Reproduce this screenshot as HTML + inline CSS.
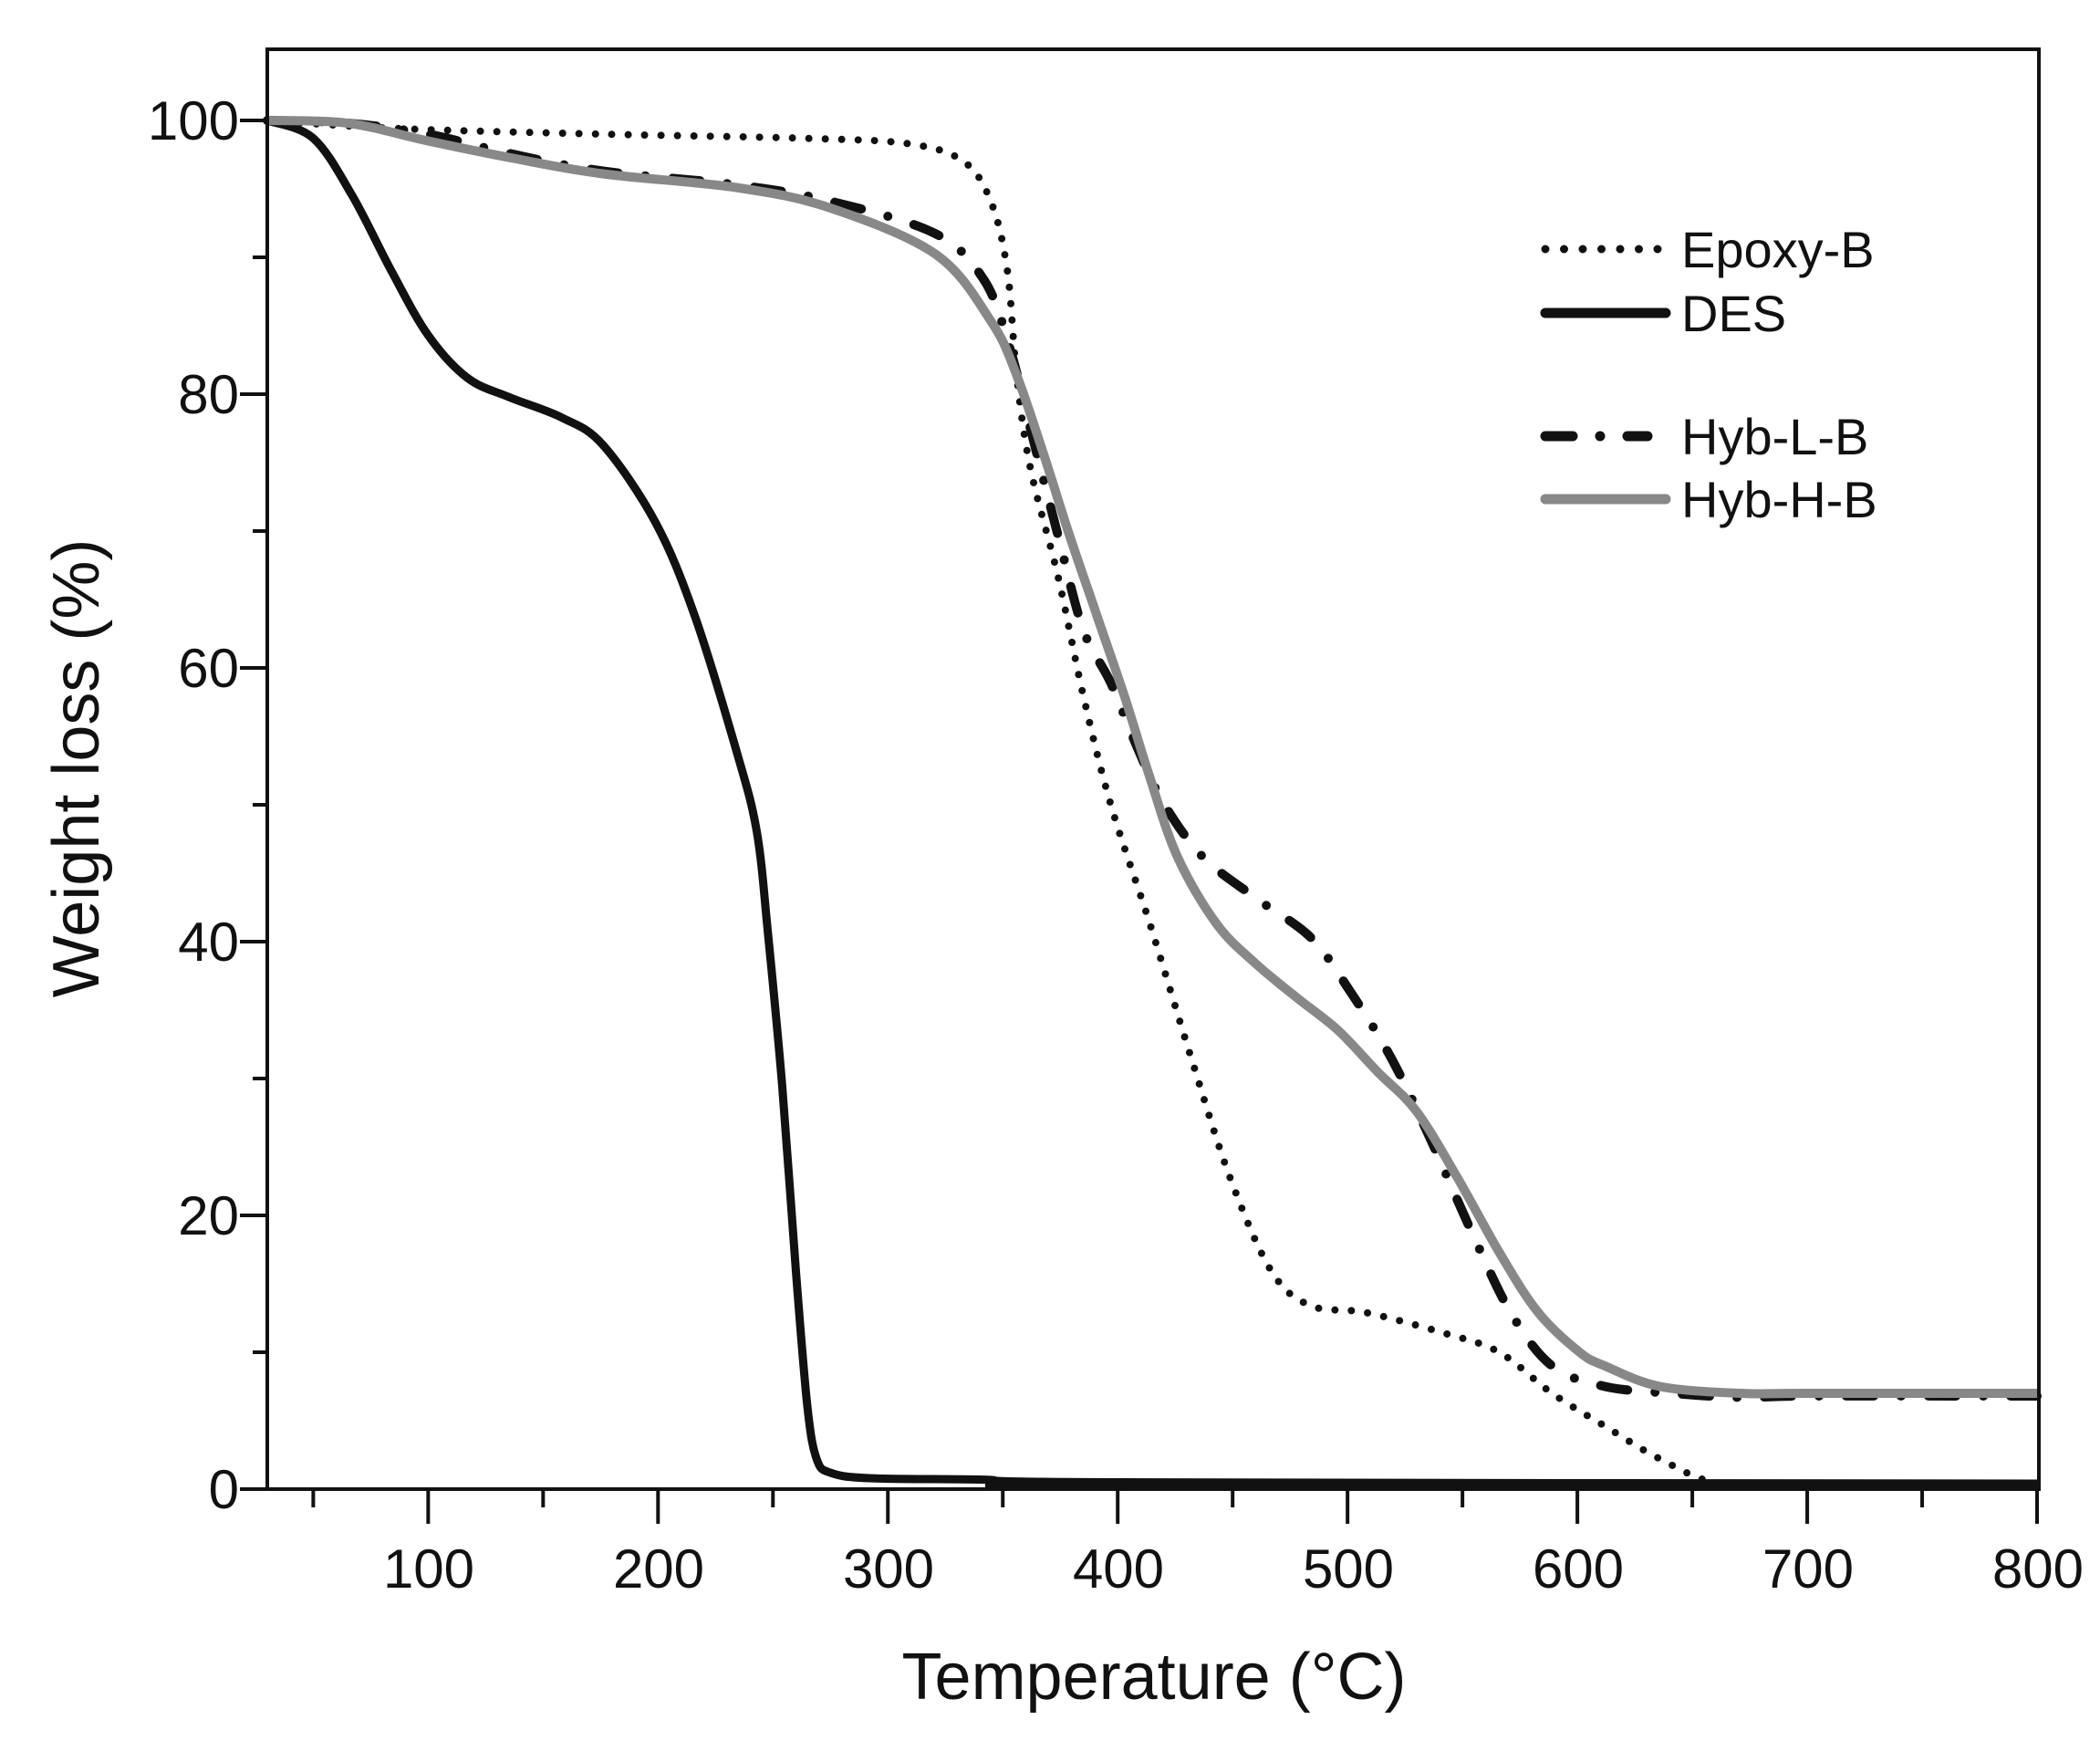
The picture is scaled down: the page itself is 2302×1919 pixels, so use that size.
<!DOCTYPE html>
<html><head><meta charset="utf-8"><style>html,body{margin:0;padding:0;background:#fff}svg{display:block}</style></head>
<body>
<svg id="s" width="2302" height="1919" viewBox="0 0 2302 1919" xmlns="http://www.w3.org/2000/svg" font-family="Liberation Sans, Arial, sans-serif">
<rect width="2302" height="1919" fill="#fff"/>
<g id="curves"></g>
<line x1="1080" y1="1627" x2="2233" y2="1627" stroke="#111" stroke-width="10"/>
<rect x="293" y="54" width="1942" height="1578" fill="none" stroke="#111" stroke-width="4"/>
<g id="ticks" stroke="#111" stroke-width="4"></g>
<g font-size="60" fill="#111" text-anchor="end">
<text x="262" y="153">100</text>
<text x="262" y="453">80</text>
<text x="262" y="753">60</text>
<text x="262" y="1053">40</text>
<text x="262" y="1353">20</text>
<text x="262" y="1653">0</text>
</g>
<g font-size="60" fill="#111" text-anchor="middle">
<text x="470" y="1740">100</text>
<text x="722" y="1740">200</text>
<text x="974" y="1740">300</text>
<text x="1226" y="1740">400</text>
<text x="1478" y="1740">500</text>
<text x="1730" y="1740">600</text>
<text x="1982" y="1740">700</text>
<text x="2234" y="1740">800</text>
</g>
<text x="1265" y="1862" font-size="72" text-anchor="middle" fill="#111">Temperature (°C)</text>
<text transform="translate(108,842) rotate(-90)" font-size="72" text-anchor="middle" fill="#111">Weight loss (%)</text>
<g>
<line x1="1694" y1="273" x2="1826" y2="273" stroke="#111" stroke-width="9" stroke-linecap="round" stroke-dasharray="0 20.5"/>
<line x1="1694" y1="343" x2="1826" y2="343" stroke="#111" stroke-width="11" stroke-linecap="round"/>
<line x1="1694" y1="478" x2="1806" y2="478" stroke="#111" stroke-width="11" stroke-linecap="round" stroke-dasharray="30 30 0 30"/>
<line x1="1694" y1="547" x2="1826" y2="547" stroke="#888" stroke-width="11" stroke-linecap="round"/>
<g font-size="56" fill="#111">
<text x="1843" y="293">Epoxy-B</text>
<text x="1843" y="363">DES</text>
<text x="1843" y="498">Hyb-L-B</text>
<text x="1843" y="567">Hyb-H-B</text>
</g>
</g>
</svg>
<script>
(function(){
var NS="http://www.w3.org/2000/svg";
function X(t){return 293+(t-30)*2.5195;}
function Y(w){return 1632-w*15.0;}
function path(pts){
 var p=pts.map(function(a){return [X(a[0]),Y(a[1])];});
 var d="M"+p[0][0].toFixed(1)+","+p[0][1].toFixed(1);
 for(var i=0;i<p.length-1;i++){
  var p0=p[i-1]||p[i],p1=p[i],p2=p[i+1],p3=p[i+2]||p2;
  var c1=[p1[0]+(p2[0]-p0[0])/6,p1[1]+(p2[1]-p0[1])/6];
  var c2=[p2[0]-(p3[0]-p1[0])/6,p2[1]-(p3[1]-p1[1])/6];
  d+="C"+c1[0].toFixed(1)+","+c1[1].toFixed(1)+" "+c2[0].toFixed(1)+","+c2[1].toFixed(1)+" "+p2[0].toFixed(1)+","+p2[1].toFixed(1);
 }
 return d;
}
var g=document.getElementById("curves");
function add(pts,attrs){var e=document.createElementNS(NS,"path");e.setAttribute("d",path(pts));e.setAttribute("fill","none");for(var k in attrs)e.setAttribute(k,attrs[k]);g.appendChild(e);}
var epoxy=[[30,100],[88,99.4],[176,99],[263,98.7],[309,98.3],[333,97],[345,94],[352,89],[356,81.4],[362,74.6],[374,66.7],[385,58],[397,50],[414,41.3],[432,31.5],[449,22.7],[467,15.9],[484,13.4],[508,12.9],[542,11.4],[566,10],[589,7],[612,4.6],[636,2.2],[662,0.4],[700,0.4],[800,0.4]];
var des=[[30,100],[50,98.7],[67,94.5],[84,89],[100,84.3],[117,81.2],[135,79.8],[158,78.3],[176,76.3],[199,70.6],[216,63.8],[234,54],[243,48],[248,40.3],[254,29.5],[260,15.9],[265,6],[269,2.2],[275,1.2],[292,0.8],[340,0.7],[400,0.5],[800,0.4]];
var hybL=[[30,100],[65,99.8],[100,99],[135,97.6],[176,96.3],[234,95.3],[275,94.1],[321,91.7],[342,88.3],[353,83.4],[362,77.5],[374,69.7],[385,62.8],[397,58.9],[409,54],[420,50.1],[437,46.2],[460,43.2],[484,40.3],[501,36.4],[519,31.5],[536,25.6],[554,18.8],[571,12.9],[589,9],[612,7.5],[641,7],[671,6.7],[700,6.8],[800,6.8]];
var hybH=[[30,100],[65,99.8],[100,98.5],[135,97.3],[176,96.1],[234,95.1],[275,93.6],[321,90.2],[345,85.3],[356,81.4],[368,75.5],[379,69.7],[391,63.8],[403,57.9],[414,52],[426,46.2],[443,41.3],[460,38.4],[478,35.9],[496,33.5],[513,30.5],[530,27.6],[548,22.7],[566,17.3],[583,12.9],[601,10],[612,9],[636,7.5],[671,7],[700,7],[800,7]];
add(epoxy,{"stroke":"#111","stroke-width":"8","stroke-linecap":"round","stroke-dasharray":"0 18"});
add(des,{"stroke":"#111","stroke-width":"9"});
add(hybL,{"stroke":"#111","stroke-width":"10","stroke-linecap":"round","stroke-dasharray":"30 30 0 30"});
add(hybH,{"stroke":"#888","stroke-width":"10"});
var t=document.getElementById("ticks");
function ln(x1,y1,x2,y2){var e=document.createElementNS(NS,"line");e.setAttribute("x1",x1);e.setAttribute("y1",y1);e.setAttribute("x2",x2);e.setAttribute("y2",y2);t.appendChild(e);}
for(var w=0;w<=100;w+=10){var y=Y(w);ln(w%20==0?263:277,y,293,y);}
for(var T=50;T<=800;T+=50){var x=X(T);ln(x,1632,x,T%100==0?1670:1652);}
})();
</script>
</body></html>
